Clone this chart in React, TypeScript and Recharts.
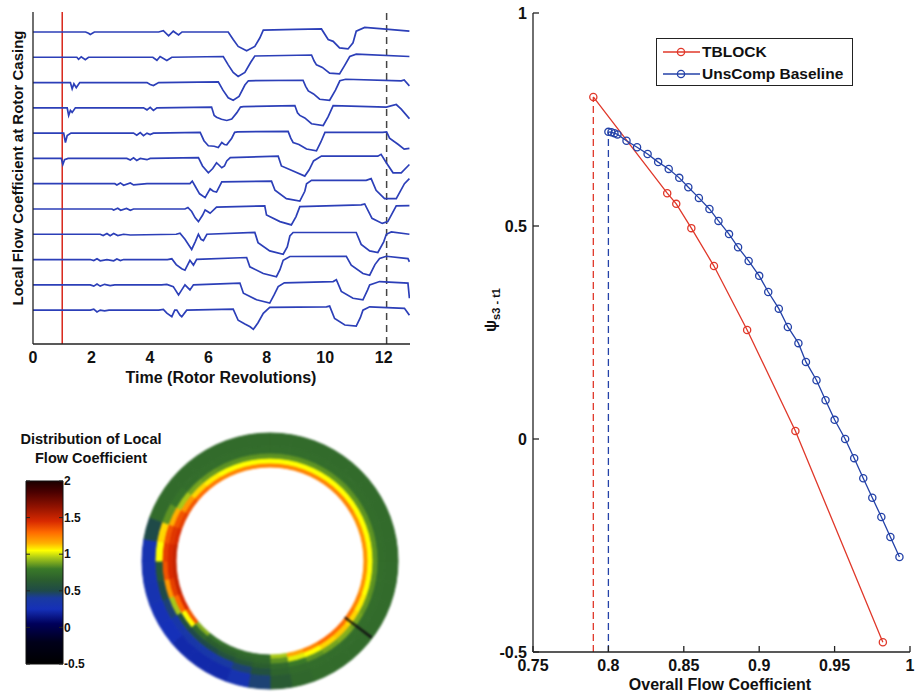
import React from "react"
import {
  LineChart,
  Line,
  XAxis,
  YAxis,
  ReferenceLine,
  Legend,
  Label,
  PieChart,
  Pie,
  Cell,
  BarChart,
  Bar,
} from "recharts"

const FONT = "'Liberation Sans', Arial, Helvetica, sans-serif"

// ---------- top left: local flow coefficient at rotor casing, one trace per sensor ----------
// [time (rotor revolutions), deviation from the trace's own baseline]
const TIME_TICKS = [0, 2, 4, 6, 8, 10, 12]
const STALL_START_T = 1
const STALL_END_T = 12.1

const TRACE_1 = [[0,0],[1.8,0],[1.9,-0.05],[1.96,-0.1],[2.1,0],[4.3,0],[4.46,0.05],[4.64,-0.15],[4.8,0.03],[4.98,-0.12],[5.1,0],[6.68,0],[6.85,-0.3],[7.02,-0.57],[7.31,-0.74],[7.59,-0.57],[7.76,-0.24],[7.88,0.07],[9.0,0.1],[9.87,0.12],[10.1,-0.3],[10.27,-0.37],[10.49,-0.63],[10.78,-0.67],[10.95,-0.43],[11.06,0.03],[11.35,0.18],[11.97,0.12],[12.88,0.03]]
const TRACE_2 = [[0,0],[1.5,0],[1.56,-0.08],[1.65,0.02],[1.79,-0.1],[1.9,0],[4.1,0],[4.24,-0.12],[4.35,0.03],[4.58,-0.13],[4.75,0],[6.51,0.03],[6.68,-0.3],[6.85,-0.6],[7.02,-0.76],[7.25,-0.6],[7.45,-0.2],[7.59,0.05],[9.53,0.09],[9.62,-0.15],[9.7,-0.3],[9.9,-0.4],[10.15,-0.63],[10.49,-0.66],[10.65,-0.35],[10.84,0.03],[11.06,0.12],[12.88,0.03]]
const TRACE_3 = [[0,0],[1.28,0],[1.34,-0.25],[1.4,-0.05],[1.48,-0.2],[1.6,0],[3.9,0],[4.01,-0.08],[4.12,-0.12],[4.3,0],[6.34,0.03],[6.5,-0.3],[6.68,-0.6],[6.85,-0.7],[7.05,-0.55],[7.25,-0.1],[7.37,0.07],[9.24,0.09],[9.33,-0.15],[9.42,-0.33],[9.6,-0.45],[9.81,-0.66],[10.15,-0.7],[10.35,-0.3],[10.5,0.07],[10.7,0.13],[12.6,0.07],[12.7,0.1],[12.88,-0.13]]
const TRACE_4 = [[0,0],[1.17,0],[1.22,-0.3],[1.28,-0.1],[1.34,-0.18],[1.45,0],[3.78,0],[3.9,-0.08],[4.01,0.02],[4.12,-0.1],[4.24,0],[6.11,0.03],[6.2,-0.3],[6.28,-0.37],[6.45,-0.45],[6.63,-0.5],[6.8,-0.44],[6.97,-0.2],[7.1,0.03],[7.2,0.05],[8.96,0.09],[9.05,-0.2],[9.13,-0.3],[9.3,-0.4],[9.53,-0.63],[9.93,-0.7],[10.1,-0.35],[10.27,0.09],[12.09,0.03],[12.43,0.13],[12.6,-0.05],[12.88,-0.43]]
const TRACE_5 = [[0,0],[1.05,0],[1.11,-0.37],[1.17,-0.1],[1.3,0],[3.44,0],[3.55,-0.08],[3.67,0.02],[3.78,-0.1],[3.9,0],[4.01,-0.06],[4.12,0],[5.72,0.03],[5.85,-0.3],[6.0,-0.5],[6.2,-0.52],[6.34,-0.57],[6.46,-0.37],[6.55,-0.45],[6.63,-0.46],[6.8,-0.2],[6.9,0.03],[7.0,0.05],[8.73,0.07],[8.82,-0.2],[8.9,-0.37],[9.1,-0.45],[9.36,-0.63],[9.7,-0.7],[9.85,-0.35],[9.99,0.03],[11.97,0.03],[12.1,0.05],[12.2,-0.2],[12.5,-0.45],[12.7,-0.63],[12.88,-0.6]]
const TRACE_6 = [[0,0],[0.97,0],[1.02,-0.24],[1.08,-0.05],[1.2,0],[3.21,0],[3.33,-0.06],[3.44,0.02],[3.55,-0.08],[3.67,0],[3.9,-0.05],[4.01,0],[5.66,0.03],[5.8,-0.3],[6.0,-0.57],[6.15,-0.4],[6.28,-0.17],[6.46,-0.37],[6.55,-0.3],[6.63,-0.1],[6.75,0.03],[8.39,0.09],[8.5,-0.3],[8.9,-0.5],[9.3,-0.7],[9.45,-0.45],[9.6,-0.1],[9.87,0.09],[11.8,0.09],[11.91,0.16],[12.09,-0.17],[12.32,-0.57],[12.6,-0.57],[12.88,-0.24]]
const TRACE_7 = [[0,0],[2.8,0],[2.87,-0.05],[2.99,0.03],[3.1,-0.06],[3.33,0.03],[3.44,-0.05],[3.9,0],[5.37,0],[5.45,0.1],[5.55,-0.1],[5.7,-0.4],[5.89,-0.55],[6.06,-0.2],[6.17,-0.3],[6.28,-0.33],[6.46,0.07],[8.16,0.1],[8.28,-0.26],[8.67,-0.59],[9.13,-0.69],[9.3,-0.3],[9.36,0],[9.53,0.13],[11.4,0.13],[11.57,0.2],[11.74,-0.26],[12.03,-0.59],[12.43,-0.59],[12.71,0],[12.88,0.2]]
const TRACE_8 = [[0,0],[2.7,0],[2.76,-0.04],[2.9,0.03],[3.0,-0.05],[3.2,0.02],[3.33,-0.05],[3.44,0],[5.2,0],[5.3,0.06],[5.43,-0.1],[5.55,-0.35],[5.66,-0.5],[5.8,-0.25],[5.89,-0.04],[6.0,-0.12],[6.06,-0.17],[6.28,0.07],[7.93,0.12],[7.99,-0.24],[8.45,-0.5],[8.84,-0.63],[9.0,-0.3],[9.13,0.09],[11.23,0.16],[11.35,0.2],[11.6,-0.37],[11.95,-0.57],[12.14,-0.5],[12.43,0.12],[12.88,0.13]]
const TRACE_9 = [[0,0],[2.3,0],[2.4,-0.05],[2.53,0.03],[2.64,-0.06],[2.76,0.03],[2.9,-0.05],[3.1,0],[3.33,-0.03],[4.9,0],[5.03,0.04],[5.2,-0.2],[5.43,-0.6],[5.55,-0.3],[5.66,0],[5.75,-0.2],[5.83,-0.25],[5.95,0],[7.59,0.07],[7.7,-0.33],[8.1,-0.66],[8.56,-0.79],[8.7,-0.5],[8.79,-0.07],[8.9,0.07],[10.95,0.07],[11.06,0.07],[11.23,-0.4],[11.52,-0.66],[11.8,-0.72],[12.0,-0.3],[12.09,0],[12.26,0.09],[12.88,0]]
const TRACE_10 = [[0,0],[1.96,0],[2.08,-0.04],[2.19,0.03],[2.3,-0.05],[2.53,0],[2.76,-0.05],[2.87,0.02],[2.99,-0.04],[3.1,0],[4.6,0],[4.75,0.03],[4.9,-0.2],[5.09,-0.36],[5.2,-0.42],[5.37,-0.03],[5.49,-0.22],[5.6,0.01],[7.31,0.08],[7.42,-0.29],[7.88,-0.55],[8.33,-0.68],[8.45,-0.4],[8.56,-0.03],[8.79,0.12],[10.72,0.13],[10.89,-0.22],[11.29,-0.55],[11.52,-0.62],[11.7,-0.2],[11.86,0.04],[12.09,0.13],[12.83,0.04],[12.88,-0.09]]
const TRACE_11 = [[0,0],[1.96,0],[2.08,-0.05],[2.19,0.03],[2.3,-0.05],[2.45,0.02],[2.64,-0.03],[2.8,0],[4.4,0],[4.58,0.02],[4.8,-0.07],[4.98,-0.4],[5.09,-0.2],[5.2,0],[5.37,-0.2],[5.49,0],[7.08,0.07],[7.2,-0.33],[7.65,-0.59],[8.1,-0.72],[8.25,-0.4],[8.39,-0.07],[8.6,0.08],[10.27,0.13],[10.38,0.2],[10.55,-0.26],[10.95,-0.53],[11.29,-0.59],[11.45,-0.2],[11.52,0],[11.86,0.13],[12.83,0.07],[12.88,-0.53]]
const TRACE_12 = [[0,0],[1.96,0],[2.08,0.04],[2.19,-0.07],[2.3,0],[2.45,-0.03],[2.6,0],[4.3,0],[4.46,0.03],[4.58,-0.12],[4.75,-0.26],[4.85,0],[4.92,0],[5.03,-0.2],[5.09,-0.26],[5.26,0],[6.85,0.04],[7.02,-0.4],[7.25,-0.55],[7.43,-0.66],[7.54,-0.76],[7.7,-0.5],[7.88,-0.13],[8.1,0.11],[10.04,0.13],[10.15,0.16],[10.32,-0.33],[10.67,-0.59],[11.06,-0.63],[11.2,-0.3],[11.29,0],[11.52,0.13],[12.71,0.07],[12.88,-0.2]]
const TRACES = [TRACE_1, TRACE_2, TRACE_3, TRACE_4, TRACE_5, TRACE_6, TRACE_7, TRACE_8, TRACE_9, TRACE_10, TRACE_11, TRACE_12]

// ---------- right: compressor characteristic ----------
const PHI_TICKS = [0.75, 0.8, 0.85, 0.9, 0.95, 1]
const PSI_TICKS = [-0.5, 0, 0.5, 1]
const TBLOCK_PHI = [0.79, 0.839, 0.845, 0.855, 0.87, 0.892, 0.924, 0.982]
const TBLOCK_PSI = [0.803, 0.577, 0.552, 0.495, 0.406, 0.256, 0.019, -0.477]
const BASE_PHI = [0.8, 0.802, 0.804, 0.806, 0.812, 0.819, 0.826, 0.833, 0.84, 0.847, 0.853, 0.86, 0.867, 0.873, 0.88, 0.886, 0.893, 0.9, 0.906, 0.913, 0.919, 0.926, 0.931, 0.938, 0.944, 0.95, 0.957, 0.963, 0.969, 0.975, 0.981, 0.987, 0.993]
const BASE_PSI = [0.721, 0.72, 0.718, 0.715, 0.7, 0.685, 0.669, 0.65, 0.634, 0.613, 0.591, 0.566, 0.54, 0.512, 0.481, 0.45, 0.418, 0.383, 0.345, 0.306, 0.263, 0.225, 0.181, 0.138, 0.091, 0.045, 0, -0.045, -0.092, -0.138, -0.183, -0.23, -0.277]

// ---------- bottom left: annulus snapshot, 36 sectors of 10 deg clockwise from top, inner -> outer ----------
const CB_TICKS = [-0.5, 0, 0.5, 1, 1.5, 2]
const RING_1 = [1.25,1.25,1.25,1.25,1.25,1.25,1.22,1.22,1.22,1.22,1.22,1.25,1.28,1.3,1.3,1.25,1.18,0.95,0.72,0.72,0.72,0.75,0.9,1.35,1.45,1.5,1.5,1.5,1.45,1.4,1.35,1.3,1.27,1.25,1.25,1.25]
const RING_2 = [1.05,1.05,1.05,1.05,1.05,1.05,1.05,1.05,1.05,1.05,1.05,1.07,1.1,1.12,1.1,1.05,1.02,0.85,0.7,0.68,0.66,0.65,0.7,1.05,1.3,1.4,1.45,1.45,1.42,1.35,1.2,1.1,1.07,1.05,1.05,1.05]
const RING_3 = [0.85,0.85,0.85,0.85,0.85,0.85,0.85,0.85,0.85,0.85,0.85,0.86,0.88,0.9,0.88,0.85,0.8,0.72,0.65,0.6,0.55,0.5,0.5,0.55,0.95,1.2,1.35,1.4,1.35,1.15,0.95,0.88,0.86,0.85,0.85,0.85]
const RING_4 = [0.73,0.73,0.73,0.73,0.73,0.73,0.73,0.73,0.73,0.73,0.73,0.73,0.73,0.73,0.73,0.73,0.72,0.68,0.55,0.45,0.38,0.35,0.35,0.35,0.45,0.5,0.6,1.05,1.1,0.85,0.76,0.73,0.73,0.73,0.73,0.73]
const RING_5 = [0.72,0.72,0.72,0.72,0.72,0.72,0.72,0.72,0.72,0.72,0.72,0.72,0.72,0.72,0.72,0.72,0.7,0.62,0.45,0.3,0.22,0.22,0.22,0.25,0.27,0.3,0.3,0.3,0.5,0.72,0.72,0.72,0.72,0.72,0.72,0.72]
const PROBE_ANGLE = 127

// colormap of the figure's colour bar
const CMAP: [number, string][] = [
  [-0.5, "#000000"], [-0.2, "#00001a"], [0.05, "#00005a"], [0.25, "#1530b8"], [0.4, "#1a3aa0"],
  [0.5, "#1f4a48"], [0.65, "#2b5e2e"], [0.8, "#3a7a28"], [0.95, "#a8c818"], [1.05, "#ffff00"],
  [1.15, "#ffb000"], [1.3, "#ff6a00"], [1.45, "#d82a00"], [1.65, "#901200"], [1.85, "#4a0000"], [2.0, "#1a0000"],
]

const RED = "#e0382a"
const BLUE = "#2442a8"
const TRACE_BLUE = "#2c3fb8"

function hexToRgb(h: string) {
  return [1, 3, 5].map((i) => parseInt(h.slice(i, i + 2), 16))
}

function colorFor(v: number) {
  if (v <= CMAP[0][0]) return CMAP[0][1]
  for (let i = 1; i < CMAP.length; i++) {
    const [v1, c1] = CMAP[i]
    const [v0, c0] = CMAP[i - 1]
    if (v <= v1) {
      const f = (v - v0) / (v1 - v0)
      const a = hexToRgb(c0)
      const b = hexToRgb(c1)
      const rgb = a.map((x, j) => Math.round(x + (b[j] - x) * f))
      return `rgb(${rgb.join(",")})`
    }
  }
  return CMAP[CMAP.length - 1][1]
}

const traceRows = TRACES.map((tr, k) =>
  tr.map(([t, v]) => ({ t, y: TRACES.length - 1 - k + v }))
)
const tblockRows = TBLOCK_PHI.map((x, i) => ({ x, y: TBLOCK_PSI[i] }))
const baseRows = BASE_PHI.map((x, i) => ({ x, y: BASE_PSI[i] }))
const tblockStall = [{ x: TBLOCK_PHI[0], y: PSI_TICKS[0] }, { x: TBLOCK_PHI[0], y: TBLOCK_PSI[0] }]
const baseStall = [{ x: BASE_PHI[0], y: PSI_TICKS[0] }, { x: BASE_PHI[0], y: BASE_PSI[0] }]

function TracesPanel() {
  return (
    <LineChart width={440} height={390} margin={{ top: 12, right: 30, left: 0, bottom: 0 }}>
      <XAxis
        type="number"
        dataKey="t"
        domain={[0, 12.9]}
        ticks={TIME_TICKS}
        allowDataOverflow
        height={46}
        tickSize={0}
        tickMargin={0}
        tickLine={false}
        axisLine={{ stroke: "#222", strokeWidth: 1.3 }}
        tick={(p: any) => (
          <text x={p.x} y={p.y + 19} textAnchor="middle" fontSize={16} fontWeight="bold" fontFamily={FONT} fill="#111">
            {p.payload.value}
          </text>
        )}
      >
        <Label
          content={() => (
            <text x={221} y={383} textAnchor="middle" fontSize={16} fontWeight="bold" fontFamily={FONT} fill="#111">
              Time (Rotor Revolutions)
            </text>
          )}
        />
      </XAxis>
      <YAxis
        type="number"
        domain={[-1.34, 11.79]}
        width={33}
        tick={false}
        tickLine={false}
        axisLine={{ stroke: "#222", strokeWidth: 1.3 }}
      >
        <Label
          content={() => (
            <text
              x={23}
              y={168}
              transform="rotate(-90, 23, 168)"
              textAnchor="middle"
              fontSize={15}
              fontWeight="bold"
              fontFamily={FONT}
              fill="#111"
            >
              Local Flow Coefficient at Rotor Casing
            </text>
          )}
        />
      </YAxis>
      <ReferenceLine x={STALL_START_T} stroke="#d8261a" strokeWidth={1.5} />
      <ReferenceLine x={STALL_END_T} stroke="#444" strokeWidth={1.5} strokeDasharray="7 5" />
      {traceRows.map((rows, k) => (
        <Line
          key={k}
          data={rows}
          dataKey="y"
          stroke={TRACE_BLUE}
          strokeWidth={1.7}
          dot={false}
          isAnimationActive={false}
        />
      ))}
    </LineChart>
  )
}

function ColorBar() {
  const stops = [...CMAP].reverse()
  return (
    <BarChart
      width={110}
      height={220}
      data={[{ name: "cb", range: [CB_TICKS[0], CB_TICKS[CB_TICKS.length - 1]] }]}
      margin={{ top: 11, right: 0, bottom: 26, left: 26 }}
      barCategoryGap={0}
    >
      <defs>
        <linearGradient id="cbGrad" x1="0" y1="0" x2="0" y2="1">
          {stops.map(([v, c]) => (
            <stop key={v} offset={(2 - v) / 2.5} stopColor={c} />
          ))}
        </linearGradient>
      </defs>
      <XAxis dataKey="name" hide />
      <YAxis
        orientation="right"
        type="number"
        domain={[-0.5, 2]}
        ticks={CB_TICKS}
        width={47}
        axisLine={false}
        tickLine={false}
        tickSize={0}
        tickMargin={1}
        tick={(p: any) => (
          <g>
            <line x1={p.x - 5} x2={p.x - 1} y1={p.y} y2={p.y} stroke="#222" />
            <line x1={p.x - 38} x2={p.x - 34} y1={p.y} y2={p.y} stroke="#222" />
            <text x={p.x} y={p.y} dy="0.35em" fontSize={12} fontWeight="bold" fontFamily={FONT} fill="#111">
              {p.payload.value}
            </text>
          </g>
        )}
      />
      <Bar dataKey="range" fill="url(#cbGrad)" stroke="#111" strokeWidth={1} isAnimationActive={false} />
    </BarChart>
  )
}

const RINGS: [number[], number, number][] = [
  [RING_1, 94, 98],
  [RING_2, 98, 103],
  [RING_3, 103, 108],
  [RING_4, 108, 115],
  [RING_5, 115, 128],
]

function Annulus() {
  return (
    <PieChart width={270} height={276}>
      {RINGS.map(([vals, r0, r1], ri) => (
        <Pie
          key={ri}
          data={vals.map((v) => ({ v, w: 1 }))}
          dataKey="w"
          cx={135}
          cy={136}
          innerRadius={r0}
          outerRadius={r1}
          startAngle={90}
          endAngle={-270}
          isAnimationActive={false}
        >
          {vals.map((v, i) => (
            <Cell key={i} fill={colorFor(v)} stroke={colorFor(v)} strokeWidth={1} />
          ))}
        </Pie>
      ))}
      <Pie
        data={[{ w: 1 }]}
        dataKey="w"
        cx={135}
        cy={136}
        innerRadius={94}
        outerRadius={127}
        startAngle={90 - PROBE_ANGLE + 0.4}
        endAngle={90 - PROBE_ANGLE - 0.4}
        fill="#111"
        stroke="#111"
        isAnimationActive={false}
      />
    </PieChart>
  )
}

function LegendBox() {
  const row = (name: string, color: string) => (
    <div style={{ display: "flex", alignItems: "center", height: 22 }}>
      <svg width={39} height={22} style={{ marginLeft: 6 }}>
        <line x1={0} x2={37} y1={11} y2={11} stroke={color} strokeWidth={1.3} />
        <circle cx={18} cy={11} r={3.6} fill="none" stroke={color} strokeWidth={1.3} />
      </svg>
      <span style={{ fontSize: 15.5, fontWeight: "bold", color: "#111", whiteSpace: "nowrap" }}>{name}</span>
    </div>
  )
  return (
    <div
      style={{
        width: 197,
        height: 48,
        boxSizing: "border-box",
        border: "1.5px solid #222",
        background: "#fff",
        paddingTop: 2,
        fontFamily: FONT,
      }}
    >
      {row("TBLOCK", RED)}
      {row("UnsComp Baseline", BLUE)}
    </div>
  )
}

function CharacteristicPanel() {
  return (
    <LineChart width={477} height={696} margin={{ top: 13, right: 7, left: 0, bottom: 0 }}>
      <XAxis
        type="number"
        dataKey="x"
        domain={[0.75, 1]}
        ticks={PHI_TICKS}
        height={44}
        tickSize={0}
        tickMargin={0}
        tickLine={false}
        axisLine={{ stroke: "#222", strokeWidth: 1.3 }}
        tick={(p: any) => (
          <g>
            <line x1={p.x} x2={p.x} y1={p.y} y2={p.y - 6} stroke="#222" strokeWidth={1.3} />
            <text x={p.x} y={p.y + 19} textAnchor="middle" fontSize={16} fontWeight="bold" fontFamily={FONT} fill="#111">
              {p.payload.value}
            </text>
          </g>
        )}
      >
        <Label
          content={() => (
            <text x={280} y={690} textAnchor="middle" fontSize={16} fontWeight="bold" fontFamily={FONT} fill="#111">
              Overall Flow Coefficient
            </text>
          )}
        />
      </XAxis>
      <YAxis
        type="number"
        domain={[-0.5, 1]}
        ticks={PSI_TICKS}
        width={93}
        tickSize={0}
        tickMargin={0}
        tickLine={false}
        axisLine={{ stroke: "#222", strokeWidth: 1.3 }}
        tick={(p: any) => (
          <g>
            <line x1={p.x} x2={p.x + 6} y1={p.y} y2={p.y} stroke="#222" strokeWidth={1.3} />
            <text x={p.x - 6} y={p.y} dy="0.35em" textAnchor="end" fontSize={16} fontWeight="bold" fontFamily={FONT} fill="#111">
              {p.payload.value}
            </text>
          </g>
        )}
      >
        <Label
          content={() => (
            <text
              x={56}
              y={310}
              transform="rotate(-90, 56, 310)"
              textAnchor="middle"
              fontSize={16}
              fontWeight="bold"
              fontFamily={FONT}
              fill="#111"
            >
              ψ<tspan fontSize={11} dy={4}>s3 - t1</tspan>
            </text>
          )}
        />
      </YAxis>
      <Legend
        layout="horizontal"
        verticalAlign="middle"
        align="center"
        content={() => <LegendBox />}
        wrapperStyle={{ left: 216, top: 38, width: 197, height: 48, right: "auto", bottom: "auto" }}
      />
      <Line
        data={tblockStall}
        dataKey="y"
        stroke={RED}
        strokeWidth={1.3}
        strokeDasharray="7 4"
        dot={false}
        legendType="none"
        isAnimationActive={false}
      />
      <Line
        data={baseStall}
        dataKey="y"
        stroke={BLUE}
        strokeWidth={1.3}
        strokeDasharray="7 4"
        dot={false}
        legendType="none"
        isAnimationActive={false}
      />
      <Line
        name="TBLOCK"
        data={tblockRows}
        dataKey="y"
        stroke={RED}
        strokeWidth={1.3}
        dot={{ r: 3.6, stroke: RED, strokeWidth: 1.3, fill: "none" }}
        isAnimationActive={false}
      />
      <Line
        name="UnsComp Baseline"
        data={baseRows}
        dataKey="y"
        stroke={BLUE}
        strokeWidth={1.3}
        dot={{ r: 3.6, stroke: BLUE, strokeWidth: 1.3, fill: "none" }}
        isAnimationActive={false}
      />
    </LineChart>
  )
}

export default function App() {
  return (
    <div
      style={{
        position: "absolute",
        left: 0,
        top: 0,
        width: 917,
        height: 696,
        background: "#fff",
        overflow: "hidden",
        fontFamily: FONT,
      }}
    >
      <div style={{ position: "absolute", left: 0, top: 0 }}>
        <TracesPanel />
      </div>
      <div
        style={{
          position: "absolute",
          left: 0,
          top: 430,
          width: 182,
          textAlign: "center",
          fontSize: 14.5,
          fontWeight: "bold",
          lineHeight: "19px",
          color: "#111",
        }}
      >
        Distribution of Local
        <br />
        Flow Coefficient
      </div>
      <div style={{ position: "absolute", left: 0, top: 470 }}>
        <ColorBar />
      </div>
      <div style={{ position: "absolute", left: 130, top: 420, filter: "blur(0.8px)" }}>
        <Annulus />
      </div>
      <div style={{ position: "absolute", left: 440, top: 0 }}>
        <CharacteristicPanel />
      </div>
    </div>
  )
}
